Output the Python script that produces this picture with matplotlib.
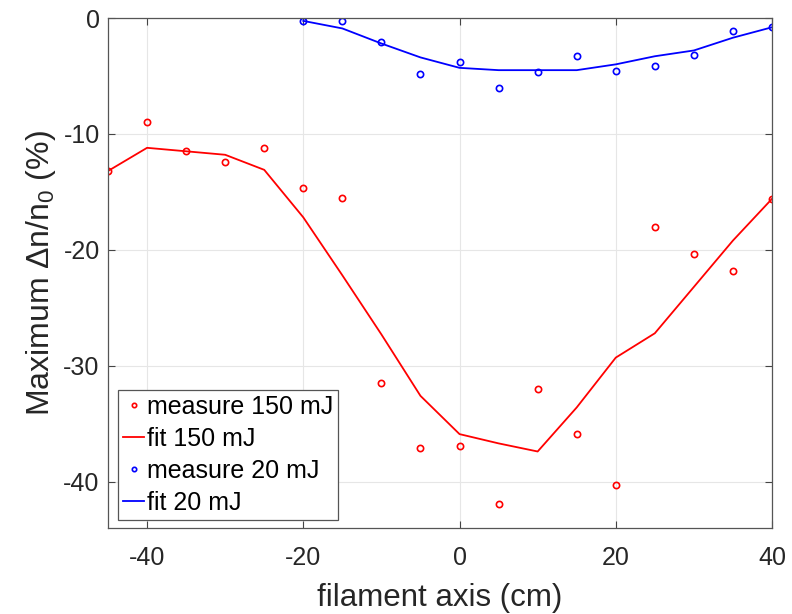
import numpy as np
import matplotlib
matplotlib.use('Agg')
import matplotlib.pyplot as plt

plt.rcParams['font.family'] = ['Liberation Sans', 'DejaVu Sans']
plt.rcParams['axes.unicode_minus'] = False
plt.rcParams['mathtext.fontset'] = 'custom'
plt.rcParams['mathtext.rm'] = 'Liberation Sans'

# data
x_red = [-45, -40, -35, -30, -25, -20, -15, -10, -5, 0, 5, 10, 15, 20, 25, 30, 35, 40]
meas_150 = [-13.2, -9.0, -11.5, -12.4, -11.2, -14.7, -15.5, -31.5, -37.1, -36.9, -41.9, -32.0,
            -35.9, -40.3, -18.0, -20.4, -21.8, -15.6]
fit_150 = [-13.2, -11.2, -11.5, -11.8, -13.1, -17.2, -22.2, -27.3, -32.6, -35.9, -36.7, -37.4,
           -33.6, -29.3, -27.2, -23.2, -19.2, -15.6]

x_blue = [-20, -15, -10, -5, 0, 5, 10, 15, 20, 25, 30, 35, 40]
meas_20 = [-0.25, -0.25, -2.1, -4.8, -3.8, -6.0, -4.7, -3.3, -4.6, -4.1, -3.2, -1.1, -0.8]
fit_20 = [-0.25, -0.9, -2.2, -3.4, -4.3, -4.5, -4.5, -4.5, -4.0, -3.3, -2.8, -1.7, -0.8]

fig = plt.figure(figsize=(7.92, 6.14), dpi=100)
ax = fig.add_axes([108/792, 1 - 528/614, (772-108)/792, (528-18)/614])

ax.plot(x_red, meas_150, 'o', mfc='none', mec='red', ms=4.5, mew=1.2, label='measure 150 mJ')
ax.plot(x_red, fit_150, '-', color='red', lw=1.3, label='fit 150 mJ')
ax.plot(x_blue, meas_20, 'o', mfc='none', mec='blue', ms=4.5, mew=1.2, label='measure 20 mJ')
ax.plot(x_blue, fit_20, '-', color='blue', lw=1.3, label='fit 20 mJ')

ax.set_xlim(-45, 40)
ax.set_ylim(-44, 0)
ax.set_xticks([-40, -20, 0, 20, 40])
ax.set_yticks([-40, -30, -20, -10, 0])
ax.grid(True, color='#e6e6e6', lw=0.8)
ax.set_axisbelow(True)
ax.tick_params(direction='in', labelsize=18, length=5, color='#444444',
               labelcolor='#262626', top=True, right=True)
ax.tick_params(axis='x', pad=13)
ax.tick_params(axis='y', pad=6)
for s in ax.spines.values():
    s.set_color('#555555')
    s.set_linewidth(0.9)

ax.set_xlabel('filament axis (cm)', fontsize=22.5, color='#262626', labelpad=9)
ax.set_ylabel(r'Maximum $\Delta$n/n$_0$ (%)', fontsize=23, color='#262626', labelpad=4)

leg = ax.legend(loc='lower left', bbox_to_anchor=(118/792, 1 - 520/614),
                bbox_transform=fig.transFigure, fontsize=18, fancybox=False, framealpha=1,
                edgecolor='#555555', handlelength=0.85, handletextpad=0.1,
                borderaxespad=0, labelspacing=0.32, borderpad=0.2, markerscale=0.7)
leg.get_frame().set_linewidth(0.9)

plt.savefig('out.png', dpi=100)
